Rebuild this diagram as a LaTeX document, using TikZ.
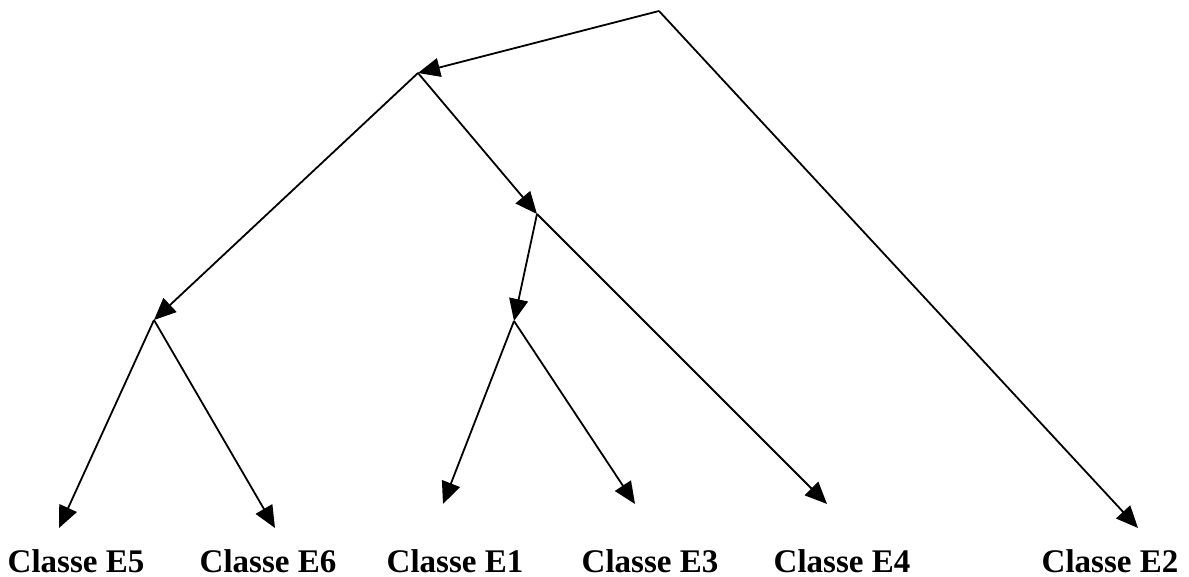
\documentclass[tikz,border=0pt]{standalone}
\usepackage{fontspec}
\setmainfont{Liberation Serif}
\usetikzlibrary{arrows.meta}
\tikzset{
  edge/.style={line width=0.9pt, -{Triangle[length=11pt,width=9.5pt]}},
  leaf/.style={font=\fontsize{16.5}{19}\selectfont\bfseries, inner sep=0pt, anchor=base}
}
\begin{document}
\begin{tikzpicture}[x=0.5pt,y=-0.5pt]
  \useasboundingbox (0,0) rectangle (1189,577);
  % branching points
  \coordinate (r) at (659,11);
  \coordinate (a) at (418,73);
  \coordinate (b) at (154,320);
  \coordinate (c) at (537,214);
  \coordinate (d) at (514,321);
  % arrow ends above the class labels
  \coordinate (t5) at (59,528);
  \coordinate (t6) at (275,528);
  \coordinate (t1) at (443,504);
  \coordinate (t3) at (635,504);
  \coordinate (t4) at (827,504);
  \coordinate (t2) at (1138,528);
  % class labels
  \node[leaf] (e5) at (76,572) {Classe E5};
  \node[leaf] (e6) at (268,572) {Classe E6};
  \node[leaf] (e1) at (455,572) {Classe E1};
  \node[leaf] (e3) at (650,572) {Classe E3};
  \node[leaf] (e4) at (842,572) {Classe E4};
  \node[leaf] (e2) at (1110,572) {Classe E2};
  % tree
  \draw[edge] (r) -- (a);
  \draw[edge] (r) -- (t2);
  \draw[edge] (a) -- (b);
  \draw[edge] (a) -- (c);
  \draw[edge] (b) -- (t5);
  \draw[edge] (b) -- (t6);
  \draw[edge] (c) -- (d);
  \draw[edge] (c) -- (t4);
  \draw[edge] (d) -- (t1);
  \draw[edge] (d) -- (t3);
\end{tikzpicture}
\end{document}
